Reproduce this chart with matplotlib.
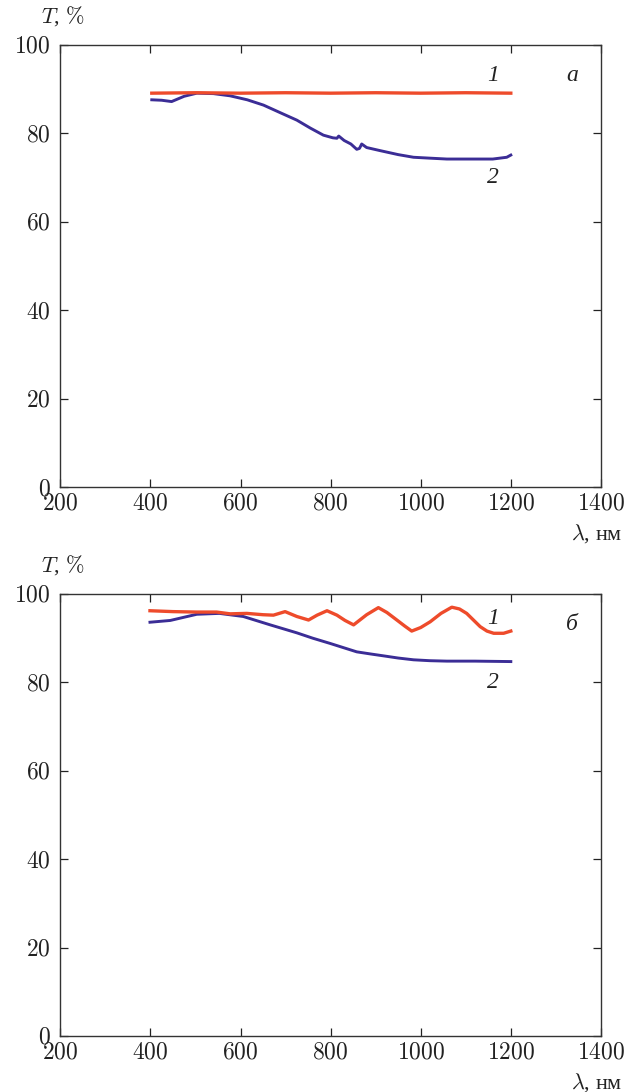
import numpy as np
import matplotlib
matplotlib.use('Agg')
import matplotlib.pyplot as plt

plt.rcParams['mathtext.fontset'] = 'cm'
plt.rcParams['font.family'] = ['Liberation Serif', 'DejaVu Serif']

# spectra, wavelength in nm, transmission in %
# (a) curve 1 - substrate, curve 2 - coated
wl_a1 = [403, 500, 600, 700, 800, 900, 1000, 1100, 1200]
t_a1 = [89.1, 89.2, 89.1, 89.2, 89.1, 89.2, 89.1, 89.2, 89.1]
wl_a2 = [403, 425, 447, 475, 503, 540, 577, 615, 651, 690, 725, 755, 784,
         805, 814, 818, 830, 845, 858, 864, 869, 880, 910, 950, 984,
         1020, 1058, 1110, 1160, 1191, 1200]
t_a2 = [87.6, 87.5, 87.2, 88.4, 89.1, 89.0, 88.5, 87.6, 86.4, 84.6, 83.0,
        81.2, 79.6, 79.0, 78.9, 79.4, 78.4, 77.6, 76.4, 76.6, 77.6, 76.8,
        76.1, 75.2, 74.6, 74.4, 74.2, 74.2, 74.2, 74.6, 75.1]

# (б)
wl_b1 = [399, 450, 503, 547, 577, 614, 650, 673, 699, 725, 751, 770, 792,
         814, 832, 851, 880, 906, 925, 947, 965, 980, 1000, 1021, 1045,
         1069, 1086, 1102, 1117, 1132, 1147, 1162, 1184, 1200]
t_b1 = [96.2, 96.0, 95.9, 95.9, 95.5, 95.6, 95.3, 95.2, 96.0, 94.9, 94.1,
        95.2, 96.2, 95.2, 94.0, 93.0, 95.3, 96.9, 95.8, 94.1, 92.7, 91.6,
        92.4, 93.7, 95.6, 97.0, 96.6, 95.6, 94.1, 92.6, 91.6, 91.1, 91.1, 91.6]
wl_b2 = [399, 444, 503, 553, 606, 666, 725, 760, 799, 830, 858, 890, 917,
         950, 984, 1020, 1058, 1120, 1200]
t_b2 = [93.6, 94.0, 95.4, 95.6, 94.9, 93.0, 91.2, 90.0, 88.8, 87.8, 86.9,
        86.4, 86.0, 85.5, 85.1, 84.9, 84.8, 84.8, 84.7]

RED = '#ee4b2b'
BLUE = '#3b2d96'
INK = '#222222'

fig = plt.figure(figsize=(6.39, 10.92), dpi=100)
ax1 = fig.add_axes([0.0944, 0.554, 0.846, 0.4048])
ax2 = fig.add_axes([0.0944, 0.0513, 0.846, 0.4048])

# axes, curves, panel tag, positions of labels 1, 2 and the tag (axes fraction)
panels = [
    (ax1, wl_a1, t_a1, wl_a2, t_a2, 'а', (0.80, 0.93), (0.80, 0.70), (0.947, 0.93)),
    (ax2, wl_b1, t_b1, wl_b2, t_b2, 'б', (0.80, 0.945), (0.80, 0.80), (0.947, 0.93)),
]

for ax, x1, y1, x2, y2, tag, pos1, pos2, postag in panels:
    ax.plot(x2, y2, color=BLUE, lw=2.1)
    ax.plot(x1, y1, color=RED, lw=2.4)
    ax.set_xlim(200, 1400)
    ax.set_ylim(0, 100)
    ax.set_xticks(range(200, 1401, 200))
    ax.set_yticks(range(0, 101, 20))
    ax.set_xticklabels(['$%d$' % v for v in range(200, 1401, 200)], fontsize=17)
    ax.set_yticklabels(['$%d$' % v for v in range(0, 101, 20)], fontsize=17)
    ax.tick_params(direction='in', top=True, right=True, length=5.5, width=0.9,
                   colors=INK)
    ax.tick_params(axis='y', pad=7)
    ax.tick_params(axis='x', pad=5)
    for s in ax.spines.values():
        s.set_linewidth(1.0)
        s.set_color('#333333')
    ax.text(pos1[0], pos1[1], '1', transform=ax.transAxes,
            fontsize=17, style='italic', ha='center', va='center', color=INK)
    ax.text(pos2[0], pos2[1], '2', transform=ax.transAxes,
            fontsize=17, style='italic', ha='center', va='center', color=INK)
    ax.text(postag[0], postag[1], tag, transform=ax.transAxes,
            fontsize=17, style='italic', ha='center', va='center', color=INK)
    ax.text(-0.035, 1.065, '$T$, $\\%$', transform=ax.transAxes,
            fontsize=16, ha='left', va='center', color=INK)
    ax.text(1.04, -0.105, '$\\lambda$, нм', transform=ax.transAxes,
            fontsize=16, ha='right', va='center', color=INK)

fig.savefig('out.png', dpi=100)
